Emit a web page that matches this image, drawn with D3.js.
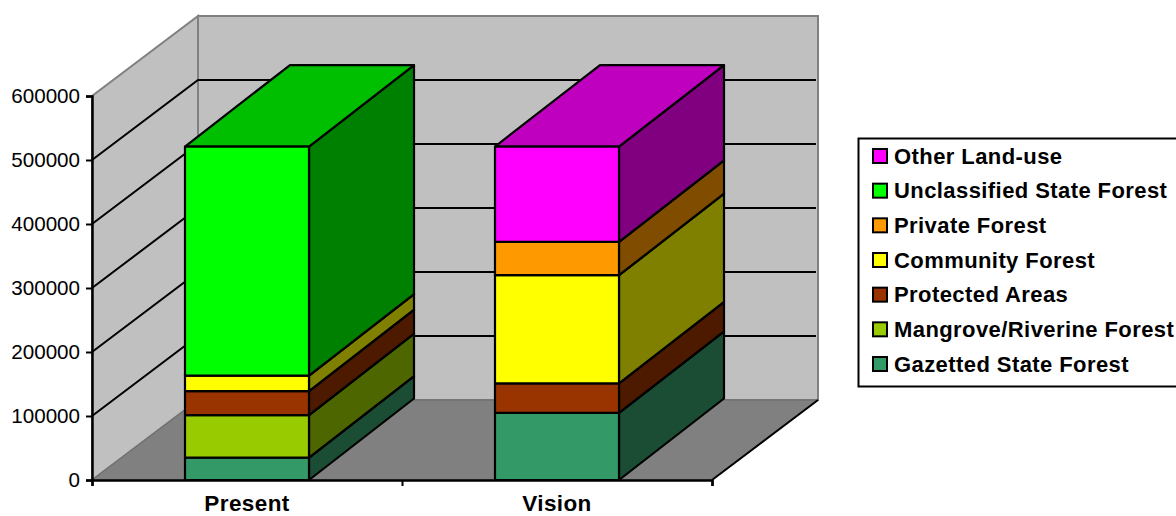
<!DOCTYPE html>
<html>
<head>
<meta charset="utf-8">
<script src="https://cdn.jsdelivr.net/npm/d3@7"></script>
<style>
  html, body { margin: 0; padding: 0; background: #fff; overflow: hidden; }
  svg { display: block; font-family: "Liberation Sans", Arial, sans-serif; }
</style>
</head>
<body>
<svg id="chart" width="1176" height="516"></svg>
<script>
// Land-use area by forest class, stacked from the ground up
const categories = ["Present", "Vision"];
const seriesNames = [
  "Gazetted State Forest", "Mangrove/Riverine Forest", "Protected Areas",
  "Community Forest", "Private Forest", "Unclassified State Forest", "Other Land-use"
];
const gazetted = [35000, 105000];
const mangrove = [66500, 0];
const protectedAreas = [37500, 46000];
const community = [24000, 169000];
const privateForest = [0, 52000];
const unclassified = [358000, 0];
const otherLand = [0, 149000];
const seriesValues = [gazetted, mangrove, protectedAreas, community, privateForest, unclassified, otherLand];
const seriesColors = ["#339966", "#99CC00", "#993300", "#FFFF00", "#FF9900", "#00FF00", "#FF00FF"];
const yTicks = [0, 100000, 200000, 300000, 400000, 500000, 600000];

const rows = categories.map((c, i) => {
  const row = { category: c };
  seriesNames.forEach((s, j) => { row[s] = seriesValues[j][i]; });
  return row;
});
const layers = d3.stack().keys(seriesNames)(rows);
const colorOf = d3.scaleOrdinal(seriesNames, seriesColors);

const svg = d3.select("#chart");
const y = d3.scaleLinear().domain([0, 600000]).range([480, 96]);
const x = d3.scaleBand().domain(categories).range([92, 712]).paddingInner(0.6).paddingOuter(0.3);
const xEdges = d3.scaleLinear().domain([0, categories.length]).range([92, 712]);

// Oblique projection offset for the chart box and for the columns
const wallDx = 106, wallDy = -80;
const barDx = 105, barDy = -81.5;
const poly = pts => pts.map(p => p.join(",")).join(" ");
const shade = (hex, k) => {
  const c = d3.rgb(hex);
  return d3.rgb(c.r * k, c.g * k, c.b * k).formatHex();
};

const xL = 92, xR = 712, yB = y(0), yT = y(600000);

// Walls
svg.append("polygon")
  .attr("points", poly([[xL, yB], [xL + wallDx, yB + wallDy], [xL + wallDx, yT + wallDy], [xL, yT]]))
  .attr("fill", "#C0C0C0").attr("stroke", "#808080").attr("stroke-width", 2);
svg.append("polygon")
  .attr("points", poly([[xL + wallDx, yB + wallDy], [xR + wallDx, yB + wallDy], [xR + wallDx, yT + wallDy], [xL + wallDx, yT + wallDy]]))
  .attr("fill", "#C0C0C0").attr("stroke", "#808080").attr("stroke-width", 2);

// Gridlines running along the side wall and across the back wall
const gridValues = yTicks.filter(v => v > 0 && v < 600000);
svg.append("g").selectAll("polyline").data(gridValues).join("polyline")
  .attr("points", v => poly([[xL, y(v)], [xL + wallDx, y(v) + wallDy], [xR + wallDx - 2, y(v) + wallDy]]))
  .attr("fill", "none").attr("stroke", "#000").attr("stroke-width", 2);

// Floor
svg.append("polygon")
  .attr("points", poly([[xL, yB], [xL + wallDx, yB + wallDy], [xR + wallDx, yB + wallDy], [xR, yB]]))
  .attr("fill", "#808080").attr("stroke", "#6a6a6a").attr("stroke-width", 1);
svg.append("line")
  .attr("x1", xR).attr("y1", yB).attr("x2", xR + wallDx).attr("y2", yB + wallDy)
  .attr("stroke", "#000").attr("stroke-width", 2);

// Columns: each segment painted bottom to top so the upper faces cover the lower ones
const segments = layers.flatMap(layer => layer
  .map(d => ({ key: layer.key, category: d.data.category, y0: d[0], y1: d[1] }))
  .filter(d => d.y1 > d.y0));
const seg = svg.append("g").selectAll("g").data(segments).join("g")
  .attr("stroke", "#000").attr("stroke-width", 2.2).attr("stroke-linejoin", "round");
seg.append("polygon").attr("fill", d => shade(colorOf(d.key), 0.5))
  .attr("points", d => {
    const r = x(d.category) + x.bandwidth();
    return poly([[r, y(d.y0)], [r + barDx, y(d.y0) + barDy], [r + barDx, y(d.y1) + barDy], [r, y(d.y1)]]);
  });
seg.append("polygon").attr("fill", d => shade(colorOf(d.key), 0.75))
  .attr("points", d => {
    const l = x(d.category), r = l + x.bandwidth();
    return poly([[l, y(d.y1)], [r, y(d.y1)], [r + barDx, y(d.y1) + barDy], [l + barDx, y(d.y1) + barDy]]);
  });
seg.append("rect").attr("fill", d => colorOf(d.key))
  .attr("x", d => x(d.category)).attr("width", x.bandwidth())
  .attr("y", d => y(d.y1)).attr("height", d => y(d.y0) - y(d.y1));

// Axes
const yAxis = svg.append("g").attr("transform", `translate(${xL},0)`)
  .call(d3.axisLeft(y).tickValues(yTicks).tickFormat(d3.format("d")).tickSize(6).tickPadding(6));
const xTickAxis = svg.append("g").attr("transform", `translate(0,${yB})`)
  .call(d3.axisBottom(xEdges).ticks(categories.length).tickFormat("").tickSize(6));
const xLabelAxis = svg.append("g").attr("transform", `translate(0,${yB})`)
  .call(d3.axisBottom(x).tickSize(0).tickPadding(15));
xLabelAxis.select(".domain").remove();
[yAxis, xTickAxis].forEach(g => {
  g.selectAll("path.domain").attr("stroke", "#000").attr("stroke-width", 2.5);
  g.selectAll(".tick line").attr("stroke", "#000").attr("stroke-width", 2);
});
yAxis.selectAll("text").attr("font-family", "Liberation Sans").attr("font-size", 20.6).attr("fill", "#000");
xLabelAxis.selectAll("text").attr("font-family", "Liberation Sans").attr("font-size", 22.5)
  .attr("letter-spacing", 0.4).attr("font-weight", "bold").attr("fill", "#000");

// Legend, listed top of the stack first
const legendOrder = seriesNames.slice().reverse();
const legendY = d3.scalePoint().domain(legendOrder).range([156, 364]);
svg.append("rect").attr("x", 858.5).attr("y", 138.5).attr("width", 330).attr("height", 248)
  .attr("fill", "#fff").attr("stroke", "#000").attr("stroke-width", 2);
const item = svg.append("g").selectAll("g").data(legendOrder).join("g")
  .attr("transform", d => `translate(872,${legendY(d)})`);
item.append("rect").attr("x", 1).attr("y", -7).attr("width", 14).attr("height", 14)
  .attr("fill", d => colorOf(d)).attr("stroke", "#000").attr("stroke-width", 2);
item.append("text").attr("x", 22).attr("y", 7.5).text(d => d)
  .attr("font-family", "Liberation Sans").attr("font-size", 22).attr("letter-spacing", 0.42)
  .attr("font-weight", "bold").attr("fill", "#000");
</script>
</body>
</html>
